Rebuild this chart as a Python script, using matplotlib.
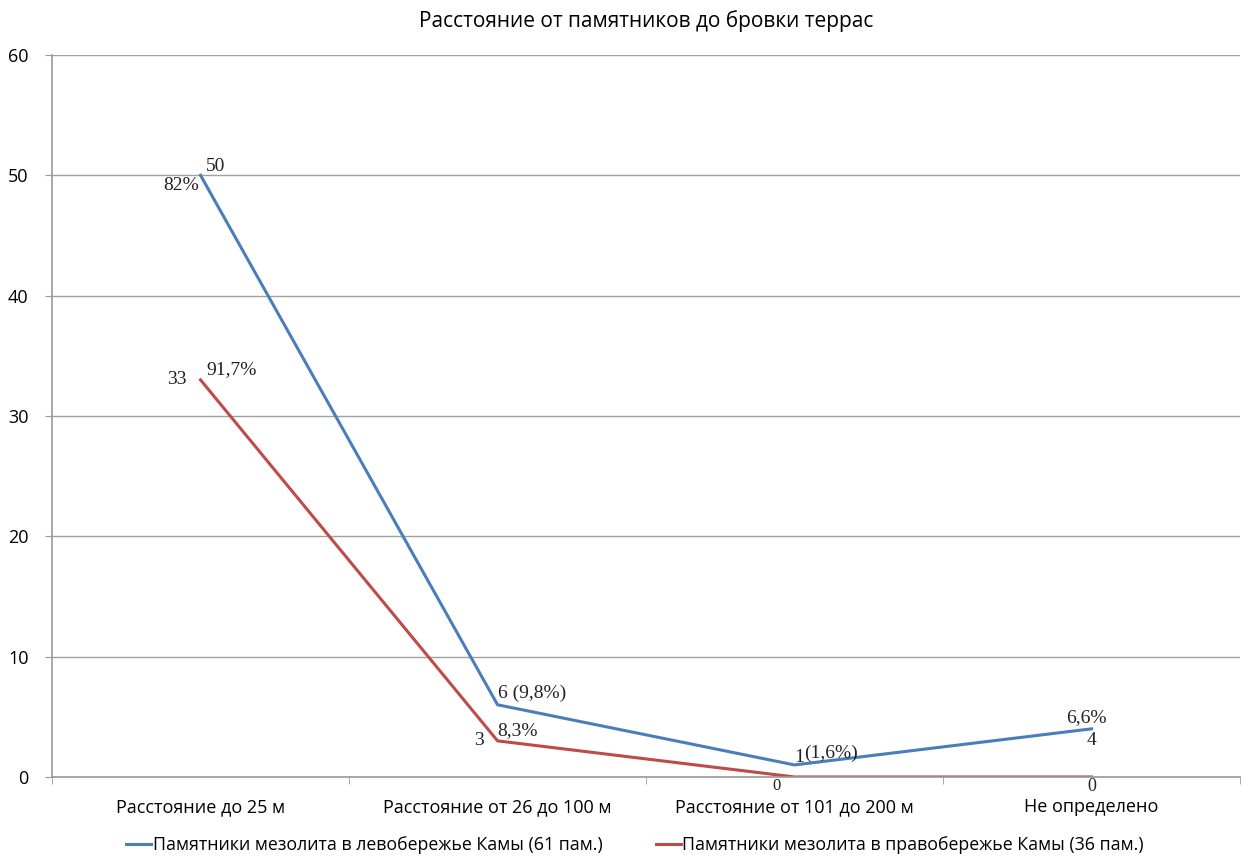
import matplotlib.pyplot as plt
import numpy as np

categories = ['Расстояние до 25 м', 'Расстояние от 26 до 100 м',
              'Расстояние от 101 до 200 м', 'Не определено']
left_bank = [50, 6, 1, 4]
right_bank = [33, 3, 0, 0]
left_name = 'Памятники мезолита в левобережье Камы (61 пам.)'
right_name = 'Памятники мезолита в правобережье Камы (36 пам.)'
title = 'Расстояние от памятников до бровки террас'

# подписи данных: (текст, x, y, dx, dy, ha, va, размер)
labels = [
    ('50', 0, 50, 4, 0, 'left', 'bottom', 14),
    ('82%', 0, 50, -1, -1, 'right', 'top', 14),
    ('33', 0, 33, -10, 0, 'right', 'center', 14),
    ('91,7%', 0, 33, 4, 1, 'left', 'bottom', 14),
    ('6 (9,8%)', 1, 6, 0, 2, 'left', 'bottom', 14),
    ('8,3%', 1, 3, 0, 1, 'left', 'bottom', 14),
    ('3', 1, 3, -10, 0, 'right', 'center', 14),
    ('1', 2, 1, 0, -1, 'left', 'bottom', 14),
    ('(1,6%)', 2, 1, 7, 2, 'left', 'bottom', 14),
    ('0', 2, 0, -10, -1, 'right', 'top', 12),
    ('6,6%', 3, 4, -4, 2, 'center', 'bottom', 14),
    ('4', 3, 4, 0, -2, 'center', 'top', 14),
    ('0', 3, 0, 0, -1, 'center', 'top', 13),
]

plt.rcParams['font.family'] = ['Open Sans', 'DejaVu Sans']

fig = plt.figure(figsize=(12.45, 8.59), dpi=100)
ax = fig.add_axes([0.0418, 0.0955, 0.9542, 0.8405])

x = np.arange(len(categories))
ax.plot(x, left_bank, color='#4A7EBB', lw=2.2, label=left_name)
ax.plot(x, right_bank, color='#BE4B48', lw=2.2, label=right_name)

for txt, xi, yi, dx, dy, ha, va, fs in labels:
    ax.annotate(txt, (xi, yi), xytext=(dx, dy), textcoords='offset points',
                ha=ha, va=va, fontsize=fs, family='Liberation Serif', color='#222222')

ax.set_xlim(-0.5, 3.5)
ax.set_ylim(0, 60)
ax.set_yticks(range(0, 61, 10))
ax.set_xticks(x)
ax.set_xticklabels(categories, fontsize=13)
ax.set_xticks(np.arange(-0.5, 3.6, 1), minor=True)
ax.tick_params(axis='x', which='major', length=0, pad=15)
ax.tick_params(axis='x', which='minor', length=5, color='#999999')
ax.tick_params(axis='y', length=5, labelsize=13, color='#999999', pad=12)
ax.grid(axis='y', color='#A0A0A0', lw=1)
ax.set_axisbelow(True)
for side in ['top', 'right']:
    ax.spines[side].set_visible(False)
for side in ['left', 'bottom']:
    ax.spines[side].set_color('#999999')
    ax.spines[side].set_linewidth(1.2)

ax.set_title(title, fontsize=15, pad=20)

fig.legend(loc='lower center', bbox_to_anchor=(0.51, -0.013), ncol=2,
           frameon=False, handlelength=1.4, handletextpad=0.1, columnspacing=3,
           prop={'family': ['Liberation Sans Narrow', 'Open Sans'], 'size': 12.8})

fig.savefig('out.png', dpi=100)
